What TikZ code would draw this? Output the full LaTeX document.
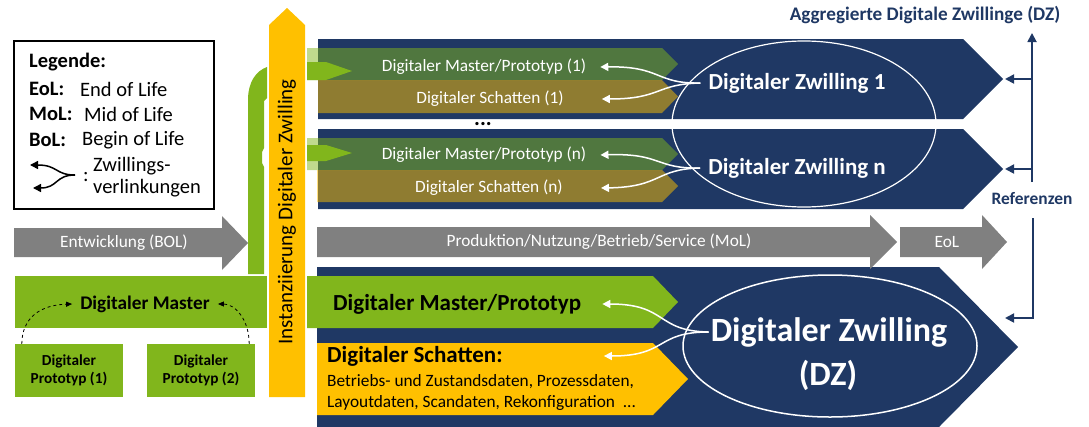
\documentclass[tikz,border=0pt]{standalone}
\usepackage{fontspec}
\setmainfont{Carlito}
\usetikzlibrary{arrows.meta}
\definecolor{dzblue}{RGB}{31,56,100}
\definecolor{dzgreen}{RGB}{129,182,28}
\definecolor{dzyellow}{RGB}{255,192,0}
\definecolor{dzgray}{RGB}{128,128,128}

\begin{document}
\begin{tikzpicture}[x=1pt,y=-1pt,
    lbl/.style={inner sep=0pt,font=\fontsize{17.3}{20}\selectfont},
    bbold/.style={inner sep=0pt,font=\bfseries\fontsize{23}{27}\selectfont},
    legtxt/.style={inner sep=0pt,anchor=west,font=\fontsize{20.5}{24}\selectfont},
    legbold/.style={legtxt,font=\bfseries\fontsize{20.5}{24}\selectfont},
    proto/.style={fill=dzgreen,minimum width=108pt,minimum height=53pt,inner sep=0pt,
        align=center,font=\bfseries\fontsize{15.3}{18.5}\selectfont},
    half/.style={fill opacity=.5},
    link/.style={white,line width=1.5pt,-{Triangle[length=8pt,width=8pt]}},
    ref/.style={dzblue,line width=1.8pt,-{Triangle[length=9pt,width=9pt]}}]
    \useasboundingbox (0,0) rectangle (1089,426);

    % legend
    \draw[line width=1.5pt] (14,41) rectangle (214,209);
    \node[legbold] (leg) at (29,62) {Legende:};
    \node[legbold] (eol) at (29,89) {EoL:};
    \node[legtxt] (eoltxt) at (80,89) {End of Life};
    \node[legbold] (mol) at (29,114) {MoL:};
    \node[legtxt] (moltxt) at (84,114) {Mid of Life};
    \node[legbold] (bol) at (29,140) {BoL:};
    \node[legtxt] (boltxt) at (82,140) {Begin of Life};
    \coordinate (legjoin) at (75,175);
    \coordinate (legup) at (30,165);
    \coordinate (legdown) at (33,188);
    \draw[line width=1.5pt,-{Triangle[length=8pt,width=8pt]}] (legjoin) .. controls (55,175) and (58,165) .. (legup);
    \draw[line width=1.5pt,-{Triangle[length=8pt,width=8pt]}] (legjoin) .. controls (55,175) and (58,188) .. (legdown);
    \node[legtxt] (colon) at (83,177) {:};
    \node[legtxt] (zw) at (93,166) {Zwillings-};
    \node[legtxt] (verl) at (93,188) {verlinkungen};

    % Entwicklung
    \fill[dzgray] (14,228) -- (222,228) -- (222,216) -- (248,243) -- (222,270) -- (222,257) -- (14,257) -- cycle;
    \node[lbl,white] (entw) at (124,243) {Entwicklung (BOL)};

    % digitaler Master mit Prototypen
    \fill[dzgreen] (248,274) -- (248,100) .. controls (248,82) and (256,71) .. (267,67) -- (267,98) -- (264,101)
        -- (264,148) -- (262,152) -- (262,163) -- (264,167) -- (264,274) -- cycle;
    \fill[dzgreen] (15,276) rectangle (267,328);
    \node[inner sep=0pt,font=\bfseries\fontsize{19.3}{23}\selectfont] (dm) at (145,304) {Digitaler Master};
    \node[proto] (p1) at (69,370.5) {Digitaler\\Prototyp (1)};
    \node[proto] (p2) at (201,370.5) {Digitaler\\Prototyp (2)};
    \draw[dashed,line width=.8pt,-{Triangle[length=6pt,width=5pt]}] ([xshift=7pt]p1.north west) .. controls (22,318) and (40,305) .. ([xshift=-8pt]dm.west);
    \draw[dashed,line width=.8pt,-{Triangle[length=6pt,width=5pt]}] ([xshift=-6pt]p2.north east) .. controls (249,318) and (234,304) .. ([xshift=8pt]dm.east);

    % Instanziierung
    \fill[dzyellow] (269,397) -- (269,25) -- (287,8) -- (305,25) -- (305,397) -- cycle;
    \node[lbl,rotate=90,font=\fontsize{21}{24}\selectfont] (inst) at (287,212) {Instanziierung Digitaler Zwilling};

    % Zwilling 1
    \fill[dzblue] (318,39) -- (963,39) -- (1003,79) -- (963,119) -- (318,119) -- cycle;
    \fill[dzgreen,half] (307,48) -- (662,48) -- (678,64) -- (662,80) -- (307,80) -- cycle;
    \fill[dzyellow,half] (318,80) -- (662,80) -- (678,96.5) -- (662,113) -- (318,113) -- cycle;
    \fill[dzgreen] (307,62) -- (326,62) -- (352,71) -- (326,80) -- (307,80) -- cycle;
    % Zwilling n
    \fill[dzblue] (318,129) -- (963,129) -- (1003,169) -- (963,209) -- (318,209) -- cycle;
    \fill[dzgreen,half] (307,138) -- (662,138) -- (678,154) -- (662,170) -- (307,170) -- cycle;
    \fill[dzyellow,half] (317,170) -- (662,170) -- (678,186) -- (662,202) -- (317,202) -- cycle;
    \fill[dzgreen] (307,145) -- (326,145) -- (352,153) -- (326,161) -- (307,161) -- cycle;

    \node[lbl,white] (m1) at (484,67) {Digitaler Master/Prototyp (1)};
    \node[lbl,white] (s1) at (490,99) {Digitaler Schatten (1)};
    \node[inner sep=0pt,anchor=base,font=\bfseries\fontsize{22}{24}\selectfont] (dots) at (483,125) {...};
    \node[lbl,white] (mn) at (484,155) {Digitaler Master/Prototyp (n)};
    \node[lbl,white] (sn) at (489,188) {Digitaler Schatten (n)};
    \draw[white,line width=1.2pt] (804,124) ellipse [x radius=132pt,y radius=83pt];
    \node[bbold,white] (z1) at (797,83) {Digitaler Zwilling 1};
    \node[bbold,white] (zn) at (797,168) {Digitaler Zwilling n};
    \draw[link] ([xshift=-8pt]z1.west) .. controls (655,84) and (662,66) .. ([xshift=14pt]m1.east);
    \draw[link] ([xshift=-8pt]z1.west) .. controls (655,84) and (662,99) .. ([xshift=38pt]s1.east);
    \draw[link] ([xshift=-8pt]zn.west) .. controls (655,169) and (662,153) .. ([xshift=14pt]mn.east);
    \draw[link] ([xshift=-8pt]zn.west) .. controls (655,169) and (662,187) .. ([xshift=38pt]sn.east);

    % DZ
    \fill[dzblue] (317,267) -- (939,267) -- (1018,347) -- (939,427) -- (317,427) -- cycle;
    \fill[dzgray] (317,227) -- (870,227) -- (870,215) -- (897,242) -- (870,269) -- (870,257) -- (317,257) -- cycle;
    \node[lbl,white] (prod) at (599,242) {Produktion/Nutzung/Betrieb/Service (MoL)};
    \fill[dzgray] (900,227) -- (982,227) -- (982,215) -- (1007,242) -- (982,269) -- (982,257) -- (900,257) -- cycle;
    \node[lbl,white] (eolarr) at (947,242) {EoL};
    \fill[dzgreen] (307,276) -- (653,276) -- (678,302) -- (653,328) -- (307,328) -- cycle;
    \fill[dzyellow] (317,343) -- (653,343) -- (688,379) -- (653,415) -- (317,415) -- cycle;
    \node[bbold,anchor=west] (mp) at (333,304) {Digitaler Master/Prototyp};
    \node[bbold,anchor=west] (ds) at (327,356) {Digitaler Schatten:};
    \node[lbl,anchor=west] (ds1) at (327,382) {Betriebs- und Zustandsdaten, Prozessdaten,};
    \node[lbl,anchor=west] (ds2) at (327,403) {Layoutdaten, Scandaten, Rekonfiguration~ ...};
    \draw[white,line width=1.5pt] (830,346) ellipse [x radius=147pt,y radius=71pt];
    \node[inner sep=0pt,white,font=\bfseries\fontsize{34}{40}\selectfont] (dz) at (829,332) {Digitaler Zwilling};
    \node[inner sep=0pt,white,font=\bfseries\fontsize{34}{40}\selectfont] (dzk) at (828,375) {(DZ)};
    \draw[link] ([xshift=-2pt]dz.west) .. controls (655,331) and (668,304) .. ([xshift=21pt]mp.east);
    \draw[link] ([xshift=-2pt]dz.west) .. controls (655,332) and (668,356) .. ([xshift=101pt]ds.east);

    % Referenzen
    \coordinate (aggtop) at (1032,33);
    \coordinate (refbot) at (1032,182);
    \coordinate (b1tip) at (1005,79);
    \coordinate (bntip) at (1005,169);
    \coordinate (eoltop) at (1033,218);
    \coordinate (dztip) at (1005,318);
    \draw[ref] (refbot) -- (aggtop);
    \draw[ref] (refbot |- b1tip) -- (b1tip);
    \draw[ref] (refbot |- bntip) -- (bntip);
    \draw[ref] (eoltop) |- (dztip);
    \node[inner sep=0pt,dzblue,font=\bfseries\fontsize{19.2}{23}\selectfont] (agg) at (925,15) {Aggregierte Digitale Zwillinge (DZ)};
    \node[inner sep=0pt,dzblue,font=\bfseries\fontsize{17.4}{20}\selectfont] (refs) at (1032,199) {Referenzen};
\end{tikzpicture}
\end{document}
